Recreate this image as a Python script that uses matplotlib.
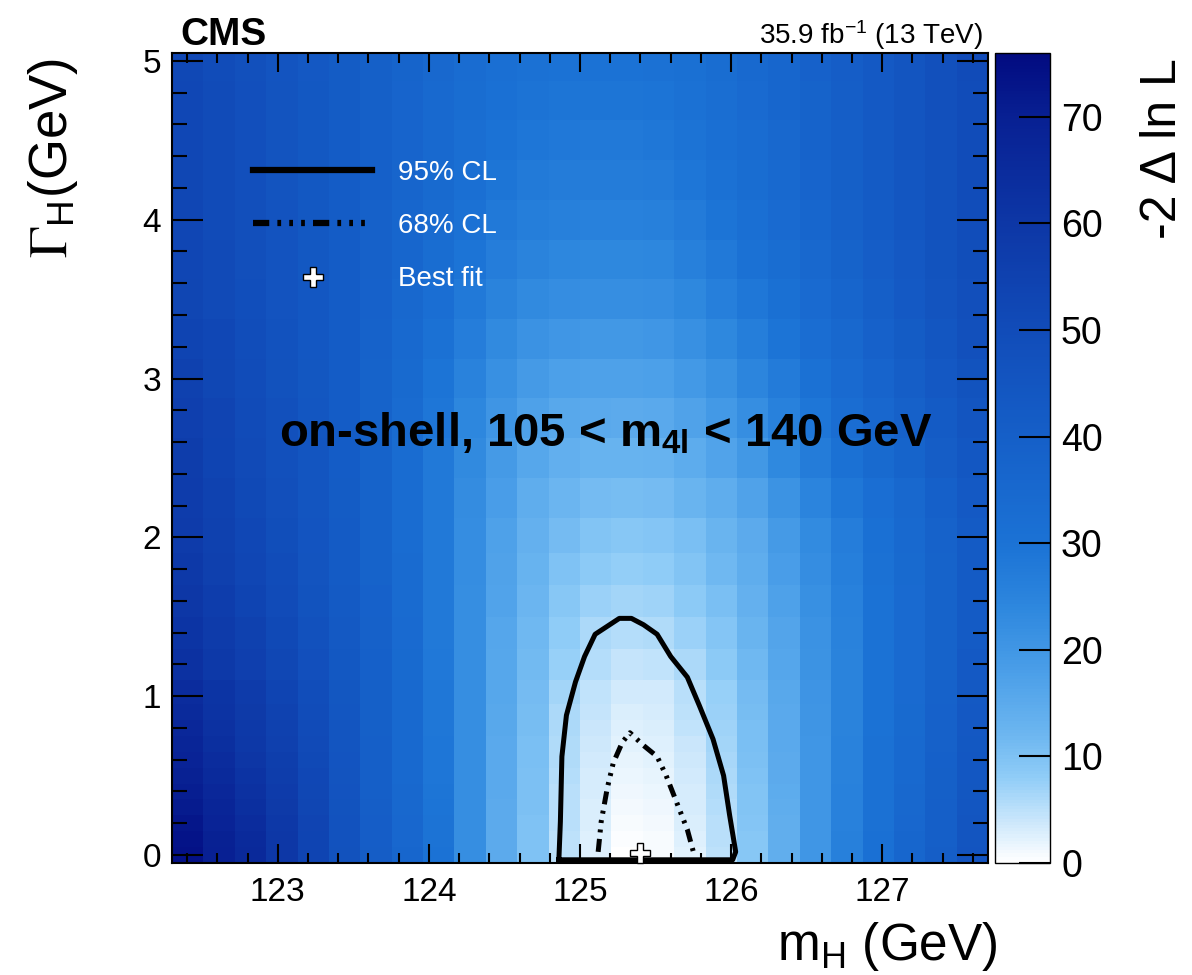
#!/usr/bin/env python3
"""CMS on-shell 4l likelihood scan in the (m_H, Gamma_H) plane."""

import numpy as np
import matplotlib
matplotlib.use("Agg")
import matplotlib.pyplot as plt
from matplotlib.colors import LinearSegmentedColormap
from matplotlib.lines import Line2D
from matplotlib.ticker import MultipleLocator

# mass binning of the scan (26 equal bins)
mass_min, mass_max, n_mass_bins = 122.3, 127.7, 26

# width bin edges (GeV); one row of -2 Delta lnL per width bin, one value per mass bin
width_edges = [-0.05, 0.05, 0.15, 0.25, 0.35, 0.45, 0.55, 0.65, 0.75, 0.85, 0.95,
               1.1, 1.3, 1.5, 1.7, 1.9, 2.125, 2.375, 2.625, 2.875, 3.125, 3.375,
               3.625, 3.875, 4.125, 4.375, 4.625, 4.875, 5.05]

nll_rows = [
    [74, 70, 66, 60, 54, 47, 41, 36, 30, 22, 15, 9.9, 5, 2.5, 0.2, 0.6, 2.3, 5, 9, 14, 20, 26, 31, 36, 40.5, 45.5],
    [73.5, 69.5, 65.5, 59.7, 53.8, 46.9, 40.9, 35.9, 29.9, 22, 15, 9.95, 5, 2.6, 0.3, 0.7, 2.5, 5.1, 9.1, 14, 20, 26, 31, 36, 40.3, 45.3],
    [72.5, 68.5, 64.5, 59.2, 53.5, 46.7, 40.7, 35.7, 29.7, 22, 15.1, 10, 5.1, 2.7, 0.6, 0.9, 2.7, 5.3, 9.3, 14.2, 20, 25.8, 30.8, 35.8, 40.1, 45.1],
    [71.5, 67.5, 63.5, 58.6, 53, 46.5, 40.5, 35.5, 29.5, 22, 15.1, 10.1, 5.2, 2.9, 0.9, 1.2, 3.0, 5.5, 9.5, 14.5, 20, 25.7, 30.7, 35.5, 39.9, 44.8],
    [70.5, 66.5, 62.5, 58, 52.5, 46.2, 40.2, 35.2, 29.2, 22, 15.2, 10.2, 5.3, 3.0, 1.2, 1.5, 3.2, 5.8, 9.7, 14.7, 20, 25.6, 30.6, 35.2, 39.7, 44.5],
    [69.5, 65.5, 61.5, 57, 52, 46, 40, 35, 29, 22, 15.2, 10.3, 5.5, 3.2, 1.5, 1.8, 3.5, 6.0, 10, 15, 20, 25.5, 30.5, 35, 39.5, 44.2],
    [68.5, 64.5, 60.5, 56.5, 51.5, 45.7, 39.9, 34.9, 28.9, 22, 15.3, 10.5, 5.7, 3.5, 1.8, 2.25, 3.8, 6.3, 10.2, 15.1, 20, 25.4, 30.4, 34.8, 39.3, 44],
    [67.5, 63.5, 59.5, 55.8, 51, 45.4, 39.8, 34.8, 28.8, 22, 15.4, 10.6, 5.9, 3.8, 2.1, 2.6, 4.1, 6.6, 10.4, 15.2, 20.1, 25.3, 30.3, 34.6, 39.1, 43.8],
    [66.5, 62.5, 59, 55.2, 50.5, 45.1, 39.7, 34.7, 28.7, 22, 15.5, 10.8, 6.0, 4.1, 2.5, 2.9, 4.5, 6.9, 10.6, 15.3, 20.2, 25.2, 30.2, 34.4, 38.9, 43.6],
    [65.5, 61.5, 58.5, 54.6, 50, 44.8, 39.6, 34.6, 28.6, 22, 15.6, 10.9, 6.2, 4.3, 2.9, 3.2, 4.8, 7.2, 10.8, 15.4, 20.3, 25.1, 30.1, 34.2, 38.7, 43.4],
    [64.5, 61, 58, 54, 49.5, 44.5, 39.5, 34.5, 28.5, 22, 15.8, 11, 6.6, 4.6, 3.3, 3.5, 5.2, 7.5, 11, 15.5, 20.5, 25, 30, 34, 38.5, 43.2],
    [62.5, 59, 56, 52.5, 48.3, 43.8, 39.2, 34.2, 28.3, 22, 16, 11.4, 7.6, 5.4, 4.4, 4.6, 6.2, 8.5, 11.8, 16.1, 21, 25.2, 30, 34, 38.2, 42.8],
    [61, 58, 55, 51.5, 47.3, 43.2, 38.9, 34, 28.1, 22, 16.3, 11.8, 8.2, 6.0, 5.4, 5.9, 7.2, 9.4, 12.5, 16.6, 21.3, 25.4, 30, 34, 38, 42.4],
    [59.8, 56.8, 53.8, 50.5, 46.5, 42.6, 38.6, 33.8, 28, 22.1, 16.7, 12.3, 9.0, 7.3, 6.7, 7.0, 8.4, 10.5, 13.5, 17.4, 21.8, 25.8, 30.2, 34, 38, 42.2],
    [58.8, 55.8, 52.8, 49.6, 46, 42.2, 38.2, 33.6, 28, 22.3, 17.1, 12.9, 10.0, 8.5, 8.0, 8.3, 9.6, 11.6, 14.3, 18.3, 22.4, 26.4, 30.6, 34.2, 38.2, 42.2],
    [58, 55, 52, 49, 45.5, 42, 38, 33.5, 28, 22.5, 17.5, 13.5, 11, 9.5, 9, 9.3, 10.5, 12.5, 15, 19, 23, 27, 31, 34.5, 38.5, 42.3],
    [57.5, 54.5, 51.5, 48.5, 45.3, 41.8, 38, 33.5, 28, 22.8, 18.2, 14.5, 12.3, 11.2, 10.8, 11.2, 12.5, 14.5, 17.2, 21, 24.8, 28.5, 32, 35.5, 39.2, 43],
    [57, 54, 51, 48, 45, 41.5, 38, 33.5, 28, 23.3, 19, 15.8, 13.8, 13, 12.8, 13.2, 14.6, 16.8, 19.8, 23.5, 27.2, 30.8, 34.2, 37.6, 41, 44],
    [56, 53.5, 50.5, 47.5, 44.8, 41.5, 38, 33.8, 28.8, 24.3, 20.3, 17.4, 15.6, 15.2, 15, 15.4, 17, 19.3, 22.2, 25.6, 29, 32.4, 35.8, 39, 42.3, 45.3],
    [55, 52.5, 50, 47, 44.5, 41.5, 38, 34.2, 29.6, 25.5, 21.7, 19.2, 17.8, 17.5, 17.4, 17.8, 19.3, 21.6, 24.5, 27.6, 30.8, 34, 37.2, 40.4, 43.5, 46.5],
    [54, 52, 49.5, 46.7, 44.2, 41.5, 38.3, 34.8, 30.8, 26.8, 23.3, 21.2, 20, 19.8, 19.7, 20, 21.8, 24, 26.6, 29.5, 32.6, 35.6, 38.6, 41.7, 44.7, 47.6],
    [53, 51, 48.8, 46.3, 44, 41.5, 38.6, 35.4, 31.8, 28.2, 25, 23.2, 22.3, 22, 22, 22.3, 24, 26.2, 28.6, 31.3, 34.1, 36.9, 39.8, 42.8, 45.8, 48.6],
    [52.8, 50.8, 48.6, 46.2, 43.9, 41.5, 38.9, 36, 32.8, 29.5, 26.8, 25, 24.2, 24, 24, 24.3, 26, 28, 30.3, 32.8, 35.4, 38, 40.8, 43.6, 46.4, 49],
    [52.6, 50.6, 48.5, 46.1, 43.8, 41.5, 39.1, 36.5, 33.6, 30.6, 28.2, 26.6, 25.9, 25.7, 25.7, 26, 27.6, 29.5, 31.6, 34, 36.4, 38.9, 41.5, 44.2, 46.9, 49.4],
    [52.4, 50.4, 48.3, 46, 43.8, 41.5, 39.3, 36.9, 34.2, 31.5, 29.3, 27.9, 27.2, 27.1, 27.1, 27.4, 28.9, 30.7, 32.7, 34.9, 37.2, 39.6, 42.1, 44.6, 47.2, 49.7],
    [52.2, 50.3, 48.2, 45.9, 43.7, 41.5, 39.4, 37.2, 34.7, 32.3, 30.2, 28.9, 28.3, 28.2, 28.2, 28.5, 29.9, 31.6, 33.5, 35.6, 37.8, 40.1, 42.5, 44.9, 47.4, 49.9],
    [52, 50.2, 48.1, 45.8, 43.7, 41.6, 39.5, 37.4, 35, 32.8, 30.9, 29.7, 29.2, 29.1, 29.1, 29.4, 30.6, 32.2, 34.1, 36.1, 38.2, 40.5, 42.8, 45.2, 47.6, 50],
    [51.8, 50, 48, 45.7, 43.6, 41.6, 39.6, 37.5, 35.3, 33.2, 31.5, 30.4, 30, 30, 30, 30.3, 31.2, 32.7, 34.5, 36.5, 38.6, 40.8, 43, 45.4, 47.8, 50.2],
]
nll_max = 76

# confidence contours
cl95_mass = [124.86, 124.87, 124.88, 124.91, 124.97, 125.03, 125.10, 125.18, 125.26, 125.34,
             125.42, 125.51, 125.60, 125.71, 125.79, 125.88, 125.95, 125.99, 126.03, 126.01, 124.86]
cl95_width = [-0.03, 0.21, 0.62, 0.88, 1.09, 1.25, 1.39, 1.44, 1.49, 1.49,
              1.45, 1.39, 1.25, 1.12, 0.94, 0.73, 0.50, 0.25, 0.02, -0.03, -0.03]
cl68_mass = [125.12, 125.14, 125.18, 125.22, 125.28, 125.33, 125.42, 125.51, 125.57, 125.64, 125.71, 125.75]
cl68_width = [0.02, 0.21, 0.42, 0.58, 0.71, 0.77, 0.69, 0.62, 0.50, 0.33, 0.16, 0.02]

best_fit_mass = 125.40
best_fit_width = 0.01

DASH_DOT3 = (0, (2.6, 1.3, 0.6, 1.3, 0.6, 1.3, 0.6, 1.3))


def main() -> None:
    plt.rcParams["font.family"] = ["Liberation Sans", "DejaVu Sans"]
    plt.rcParams["mathtext.fontset"] = "custom"
    plt.rcParams["mathtext.rm"] = "Liberation Sans"
    plt.rcParams["mathtext.sf"] = "Liberation Sans"
    plt.rcParams["mathtext.it"] = "Liberation Sans:italic"
    plt.rcParams["mathtext.bf"] = "Liberation Sans:bold"

    cmap = LinearSegmentedColormap.from_list("cms_blue", [
        (0.0, "#ffffff"), (3 / 76, "#d6ecfc"), (8 / 76, "#8fccf7"), (12 / 76, "#6cb6f0"),
        (18 / 76, "#4a9ee8"), (24 / 76, "#2d87de"), (30 / 76, "#1b72d5"), (40 / 76, "#155fc8"),
        (50 / 76, "#114cb9"), (60 / 76, "#0d37a6"), (70 / 76, "#082093"), (1.0, "#020b80"),
    ])

    fig = plt.figure(figsize=(11.92, 9.75), dpi=100)
    ax = fig.add_axes([0.1443, 0.1149, 0.6846, 0.8308])
    cax = fig.add_axes([0.8347, 0.1149, 0.0461, 0.8308])

    mass_edges = np.linspace(mass_min, mass_max, n_mass_bins + 1)
    nll = np.array(nll_rows)
    mesh = ax.pcolormesh(mass_edges, width_edges, nll, cmap=cmap, vmin=0, vmax=nll_max,
                         shading="flat", edgecolors="face", linewidth=0)

    ax.plot(cl95_mass, cl95_width, color="black", lw=3.6, solid_joinstyle="round", zorder=3)
    ax.plot(cl68_mass, cl68_width, color="black", lw=3.6, linestyle=DASH_DOT3, zorder=3)
    ax.plot(best_fit_mass, best_fit_width, marker="P", ms=15, mfc="white", mec="black",
            mew=1.0, ls="none", zorder=4, clip_on=False)

    ax.set_xlim(mass_min, mass_max)
    ax.set_ylim(-0.05, 5.05)
    ax.set_xticks([123, 124, 125, 126, 127])
    ax.set_yticks([0, 1, 2, 3, 4, 5])
    ax.xaxis.set_minor_locator(MultipleLocator(0.2))
    ax.yaxis.set_minor_locator(MultipleLocator(0.2))
    ax.tick_params(which="both", direction="in", top=True, right=True, width=1.5,
                   labelsize=24)
    ax.tick_params(axis="x", which="major", length=14, pad=10)
    ax.tick_params(axis="x", which="minor", length=7)
    ax.tick_params(axis="y", which="major", length=22, pad=8)
    ax.tick_params(axis="y", which="minor", length=11)
    for spine in ax.spines.values():
        spine.set_linewidth(1.5)

    cb = fig.colorbar(mesh, cax=cax)
    cb.set_ticks([0, 10, 20, 30, 40, 50, 60, 70])
    cb.outline.set_linewidth(1.0)
    cax.tick_params(direction="in", length=22, width=1.5, labelsize=27, pad=8)

    handles = [
        Line2D([], [], color="black", lw=4.5),
        Line2D([], [], color="black", lw=4.5, linestyle=DASH_DOT3),
        Line2D([], [], marker="P", ms=15, mfc="white", mec="black", mew=1.0, ls="none"),
    ]
    ax.legend(handles, ["95% CL", "68% CL", "Best fit"], loc="upper left",
              bbox_to_anchor=(0.082, 0.885), frameon=False, fontsize=20,
              labelcolor="white", handlelength=4.3, handletextpad=0.93,
              labelspacing=0.98, borderpad=0)

    ax.text(125.17, 2.65, r"on-shell, 105 < m$_{\mathbf{4l}}$ < 140 GeV",
            fontsize=34, fontweight="bold", ha="center", va="center")

    fig.text(180 / 1192, 1 - 45 / 975, "CMS", fontsize=28, fontweight="bold",
             va="baseline", ha="left")
    fig.text(983 / 1192, 1 - 44 / 975, r"35.9 fb$^{-1}$ (13 TeV)", fontsize=20,
             va="baseline", ha="right")
    fig.text(998 / 1192, 1 - 960 / 975, r"m$_{\mathrm{H}}$ (GeV)", fontsize=37,
             va="baseline", ha="right")
    fig.text(53 / 1192, 1 - 58 / 975, r"$\Gamma_{\mathregular{H}}$(GeV)", fontsize=38,
             rotation=90, va="top", ha="center", math_fontfamily="stix")
    fig.text(1163 / 1192, 1 - 58 / 975, "-2 \u0394 ln L", fontsize=36,
             rotation=90, va="top", ha="center")

    fig.savefig("out.png", dpi=100)
    print("Plot saved to out.png")


if __name__ == "__main__":
    main()
